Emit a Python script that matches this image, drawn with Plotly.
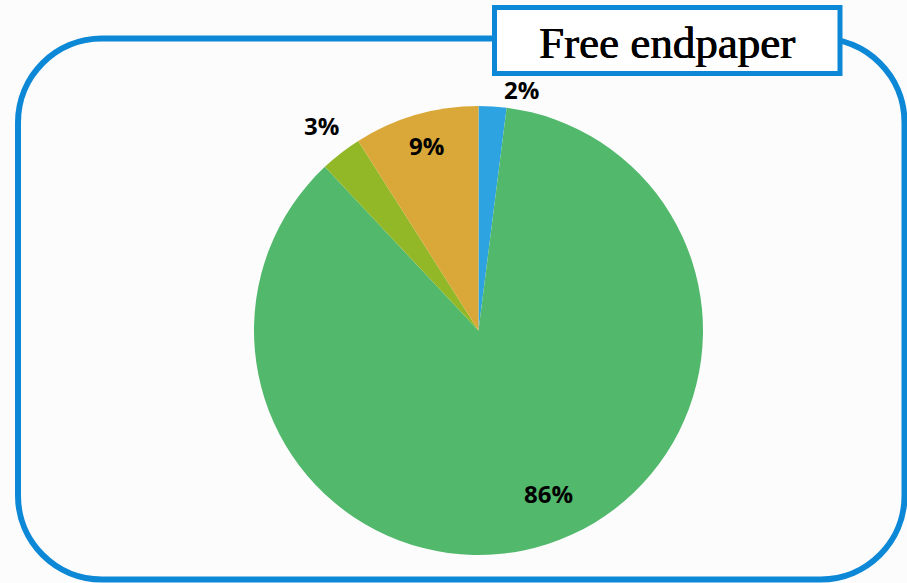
import math
import plotly.graph_objects as go

# Share of each category (percent), in drawing order clockwise from 12 o'clock
categories = ["A", "B", "C", "D"]
shares = [2, 86, 3, 9]
slice_colors = ["#2EA3E1", "#52B86C", "#93B827", "#DAA839"]
title_text = "Free endpaper"

# Where each value label sits relative to its slice, with a small pixel nudge
label_modes = ["outside", "inside", "outside", "inside"]
label_radius = [1.02, 0.79, 1.02, 0.86]
label_nudge = [(9, -6), (15, 6), (3, 6), (2, 0)]

W, H = 907, 583
BORDER = "#0C88D6"
LABEL_FONT = dict(family="Open Sans", size=24, color="#000000")

# Pie geometry in pixels
cx, cy, r = 478.5, 330.5, 224.5

fig = go.Figure()

fig.add_trace(go.Pie(
    labels=categories,
    values=shares,
    sort=False,
    direction="clockwise",
    rotation=0,
    marker=dict(colors=slice_colors, line=dict(width=0)),
    textinfo="none",
    hoverinfo="label+percent",
    showlegend=False,
    domain=dict(x=[(cx - r) / W, (cx + r) / W],
                y=[(H - cy - r) / H, (H - cy + r) / H]),
))

# Value labels, placed along each slice's middle ray
total = sum(shares)
cum = 0
annotations = []
for val, mode, k, (nx, ny) in zip(shares, label_modes, label_radius, label_nudge):
    mid = (cum + val / 2) / total * 2 * math.pi
    cum += val
    dx, dy = math.sin(mid), -math.cos(mid)
    pct = f"{round(val / total * 100)}%"
    ann = dict(
        x=cx + dx * r * k, y=cy + dy * r * k, xref="x", yref="y",
        text=f"<b>{pct}</b>", showarrow=False,
        xshift=nx, yshift=ny, font=LABEL_FONT,
    )
    if mode == "inside":
        ann.update(xanchor="center", yanchor="middle")
    else:
        ann.update(xanchor="left" if dx > 0 else "right",
                   yanchor="bottom" if dy < 0 else "top")
    annotations.append(ann)

# Title inside its framed box (slight shadow thickens the serif strokes)
bx0, by0, bx1, by1 = 494.5, 7.5, 840, 73.5
annotations.append(dict(
    x=(bx0 + bx1) / 2, y=(by0 + by1) / 2 + 2, xref="x", yref="y",
    text=title_text, showarrow=False, xanchor="center", yanchor="middle",
    font=dict(family="Liberation Serif", size=45, color="#000000",
              shadow="0.5px 0 0 #000000, -0.3px 0 0 #000000"),
))

# Rounded outer frame (cubic Bezier corners)
L, T, R, B, rad = 18, 38.5, 904.5, 579.5, 84
c = 0.5523 * rad
frame = (f"M {L + rad},{T} L {R - rad},{T} C {R - rad + c},{T} {R},{T + rad - c} {R},{T + rad} "
         f"L {R},{B - rad} C {R},{B - rad + c} {R - rad + c},{B} {R - rad},{B} "
         f"L {L + rad},{B} C {L + rad - c},{B} {L},{B - rad + c} {L},{B - rad} "
         f"L {L},{T + rad} C {L},{T + rad - c} {L + rad - c},{T} {L + rad},{T} Z")

shapes = [
    dict(type="path", path=frame, xref="x", yref="y",
         line=dict(color=BORDER, width=6), fillcolor="rgba(0,0,0,0)", layer="below"),
    dict(type="rect", x0=bx0, y0=by0, x1=bx1, y1=by1, xref="x", yref="y",
         line=dict(color=BORDER, width=5), fillcolor="#FFFFFF", layer="above"),
]

fig.update_layout(
    width=W, height=H,
    margin=dict(l=0, r=0, t=0, b=0),
    paper_bgcolor="#FCFCFC",
    plot_bgcolor="rgba(0,0,0,0)",
    xaxis=dict(range=[0, W], visible=False, fixedrange=True),
    yaxis=dict(range=[H, 0], visible=False, fixedrange=True),
    shapes=shapes,
    annotations=annotations,
)

fig.write_html("out.html")
